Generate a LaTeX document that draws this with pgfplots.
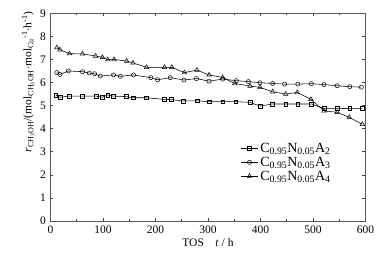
\documentclass[border=0pt]{standalone}
\usepackage{fontspec}
\setmainfont{Liberation Serif}
\usepackage{pgfplots}
\pgfplotsset{compat=1.18}
\begin{document}
\begin{tikzpicture}
\useasboundingbox (-50.5pt,-40pt) rectangle (340.5pt,221pt);
\begin{axis}[
  scale only axis,
  width=315pt, height=207.7pt,
  xmin=0, xmax=600, ymin=0, ymax=9,
  xtick={0,100,...,600}, ytick={0,1,...,9},
  minor x tick num=1,
  tick align=inside,
  major tick length=3pt, minor tick length=2pt,
  axis line style={black!65, line width=0.6pt},
  tick style={black!75, line width=0.6pt},
  every tick label/.append style={font=\fontsize{11.5}{12}\selectfont},
  /pgf/number format/assume math mode=true,
  xticklabel style={yshift=-1pt},
  yticklabel style={xshift=-1pt},
  xlabel={\fontsize{11.5}{12}\selectfont TOS\quad\textit{t} / h},
  xlabel style={yshift=2pt},
  ylabel={\fontsize{11.5}{12}\selectfont \textit{r}\textsubscript{CH\textsubscript{3}OH}/(mol\textsubscript{CH\textsubscript{3}OH}$\cdot$mol\textsubscript{Cu}\textsuperscript{-1}$\cdot$h\textsuperscript{-1})},
  ylabel style={at={(ticklabel cs:0.67)}, yshift=-1pt},
  legend style={draw=none, fill=none, at={(0.6,0.39)}, anchor=north west,
    font=\fontsize{14}{15}\selectfont, row sep=-1pt,
    inner sep=1pt},
  legend cell align=left,
  every axis plot/.append style={black, line width=0.55pt, mark options={solid, fill=white, line width=0.5pt}},
]
\addplot[mark=square, mark size=1.9pt] coordinates {
(10,5.46)(18,5.36)(35,5.41)(60,5.41)(87,5.41)(98,5.36)(109,5.46)(120,5.41)(145,5.39)(157,5.34)(183,5.34)(217,5.27)(230,5.26)(253,5.20)(279,5.21)(302,5.17)(328,5.17)(353,5.17)(380,5.14)(399,4.98)(423,5.07)(448,5.07)(471,5.07)(497,5.07)(521,4.88)(546,4.88)(570,4.87)(594,4.87)};
\addlegendentry{C\textsubscript{0.95}N\textsubscript{0.05}A\textsubscript{2}}
\addplot[mark=o, mark size=2.1pt] coordinates {
(12,6.43)(18,6.35)(34,6.50)(61,6.47)(74,6.41)(84,6.38)(95,6.28)(120,6.33)(133,6.27)(158,6.33)(191,6.21)(204,6.12)(228,6.21)(254,6.11)(278,6.17)(302,6.06)(328,6.15)(354,6.08)(377,6.04)(399,5.99)(423,5.96)(446,5.93)(471,5.93)(497,5.95)(521,5.91)(546,5.86)(570,5.82)(592,5.80)};
\addlegendentry{C\textsubscript{0.95}N\textsubscript{0.05}A\textsubscript{3}}
\addplot[mark=triangle, mark size=2.6pt] coordinates {
(12,7.51)(18,7.42)(36,7.25)(61,7.24)(86,7.15)(99,7.09)(109,6.99)(121,7.00)(145,6.93)(157,6.85)(183,6.66)(217,6.66)(231,6.66)(255,6.43)(279,6.54)(302,6.33)(328,6.22)(351,5.96)(380,5.85)(399,5.79)(423,5.60)(448,5.50)(470,5.57)(496,5.27)(521,4.77)(546,4.71)(569,4.49)(594,4.19)};
\addlegendentry{C\textsubscript{0.95}N\textsubscript{0.05}A\textsubscript{4}}
\end{axis}
\end{tikzpicture}
\end{document}
